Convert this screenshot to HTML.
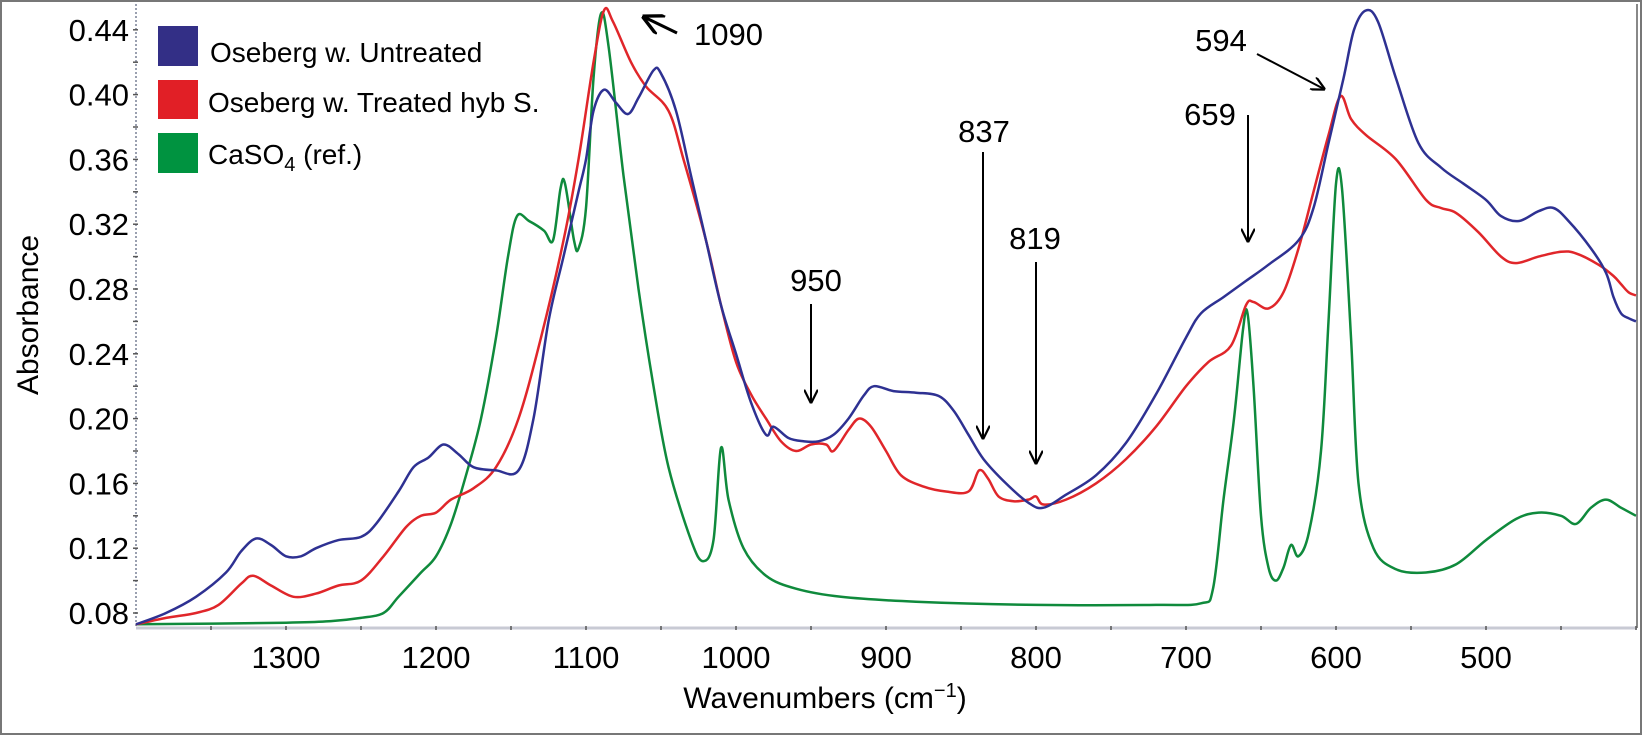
<!DOCTYPE html>
<html><head><meta charset="utf-8"><style>
html,body{margin:0;padding:0;background:#fff;}
svg{display:block;font-family:"Liberation Sans",Arial,sans-serif;}
</style></head><body>
<svg id="chart" width="1642" height="735" viewBox="0 0 1642 735">
<rect x="1" y="1" width="1640" height="733" fill="#fff" stroke="#777" stroke-width="2"/>
<g id="axes"></g>
<g id="series"></g>
<g id="legend">
  <rect x="158" y="26" width="40" height="40" fill="#332f86"/>
  <text x="210" y="62" font-size="28">Oseberg w. Untreated</text>
  <rect x="158" y="80" width="40" height="39" fill="#e11f26"/>
  <text x="208" y="112" font-size="28">Oseberg w. Treated hyb S.</text>
  <rect x="158" y="133" width="40" height="40" fill="#009340"/>
  <text x="208" y="164" font-size="28">CaSO<tspan font-size="20" dy="7">4</tspan><tspan dy="-7"> (ref.)</tspan></text>
</g>
<g id="annotations" font-size="31">
  <defs><marker id="ah" viewBox="0 0 10 10" refX="9" refY="5" markerWidth="7" markerHeight="7" orient="auto"><path d="M0,0 L10,5 L0,10" fill="none" stroke="#000" stroke-width="1.6"/></marker></defs>
  <line x1="677" y1="33" x2="644" y2="17" stroke="#000" stroke-width="3" marker-end="url(#ah)"/>
  <text x="694" y="45">1090</text>
  <line x1="811" y1="304" x2="811" y2="402" stroke="#000" stroke-width="2" marker-end="url(#ah)"/>
  <text x="816" y="291" text-anchor="middle">950</text>
  <line x1="983" y1="152" x2="983" y2="438" stroke="#000" stroke-width="2" marker-end="url(#ah)"/>
  <text x="984" y="142" text-anchor="middle">837</text>
  <line x1="1036" y1="262" x2="1036" y2="463" stroke="#000" stroke-width="2" marker-end="url(#ah)"/>
  <text x="1035" y="249" text-anchor="middle">819</text>
  <line x1="1248" y1="115" x2="1248" y2="241" stroke="#000" stroke-width="2" marker-end="url(#ah)"/>
  <text x="1210" y="125" text-anchor="middle">659</text>
  <line x1="1257" y1="54" x2="1324" y2="89" stroke="#000" stroke-width="2" marker-end="url(#ah)"/>
  <text x="1221" y="51" text-anchor="middle">594</text>
</g>
<text x="825" y="708" font-size="30" text-anchor="middle">Wavenumbers (cm<tspan font-size="20" dy="-11">−1</tspan><tspan dy="11">)</tspan></text>
<text x="0" y="0" font-size="30" text-anchor="middle" transform="translate(38,315) rotate(-90)">Absorbance</text>
</svg>
<script>
const xTicks = [1300,1200,1100,1000,900,800,700,600,500];
const yTicks = [0.08,0.12,0.16,0.20,0.24,0.28,0.32,0.36,0.40,0.44];
const untreatedW = [1400,1380,1360,1340,1330,1320,1310,1300,1290,1280,1265,1250,1240,1225,1215,1205,1195,1185,1175,1160,1145,1135,1125,1115,1105,1100,1095,1088,1080,1072,1065,1055,1050,1040,1030,1020,1010,1000,990,980,975,965,955,945,935,925,915,908,895,880,865,855,845,835,820,805,795,780,760,740,720,700,690,675,660,645,625,615,605,595,588,580,572,560,545,530,515,500,490,478,465,455,445,430,420,415,410,405,400];
const untreatedA = [0.073,0.08,0.09,0.105,0.118,0.126,0.122,0.115,0.115,0.12,0.125,0.127,0.135,0.155,0.17,0.176,0.184,0.178,0.17,0.168,0.168,0.2,0.26,0.3,0.34,0.36,0.39,0.403,0.395,0.388,0.398,0.415,0.413,0.39,0.35,0.31,0.27,0.24,0.21,0.19,0.195,0.188,0.186,0.186,0.19,0.2,0.214,0.22,0.217,0.216,0.214,0.205,0.19,0.175,0.16,0.148,0.145,0.153,0.165,0.185,0.215,0.25,0.265,0.275,0.285,0.295,0.31,0.33,0.37,0.41,0.44,0.452,0.445,0.41,0.37,0.355,0.345,0.335,0.325,0.322,0.328,0.33,0.322,0.305,0.29,0.275,0.265,0.262,0.26];
const treatedW = [1400,1380,1360,1345,1330,1322,1310,1295,1280,1265,1250,1235,1220,1210,1200,1190,1175,1160,1145,1130,1115,1105,1095,1088,1082,1070,1060,1045,1035,1020,1010,1000,990,980,970,960,950,940,935,925,918,910,900,890,875,860,845,838,832,825,815,805,800,795,780,760,740,720,700,685,670,660,655,645,635,625,615,605,597,590,580,560,540,530,520,505,490,480,465,450,440,425,415,410,405,400];
const treatedA = [0.073,0.077,0.08,0.085,0.098,0.103,0.097,0.09,0.092,0.097,0.1,0.115,0.133,0.14,0.142,0.15,0.157,0.17,0.2,0.25,0.31,0.36,0.42,0.452,0.445,0.42,0.405,0.39,0.36,0.31,0.27,0.235,0.215,0.2,0.186,0.18,0.184,0.184,0.18,0.193,0.2,0.195,0.18,0.165,0.158,0.155,0.155,0.168,0.163,0.152,0.149,0.15,0.152,0.147,0.15,0.16,0.175,0.195,0.22,0.235,0.245,0.27,0.272,0.268,0.278,0.305,0.34,0.375,0.399,0.385,0.375,0.36,0.335,0.33,0.327,0.315,0.3,0.296,0.3,0.303,0.302,0.295,0.288,0.283,0.278,0.276];
const caso4W = [1400,1300,1270,1250,1235,1225,1210,1200,1190,1180,1170,1160,1152,1146,1138,1128,1122,1117,1114,1108,1105,1100,1095,1090,1085,1075,1065,1055,1045,1030,1022,1015,1010,1005,995,980,960,930,880,800,720,690,682,675,668,662,659,655,650,645,640,635,630,625,618,610,605,600,596,590,585,575,560,540,520,500,480,465,450,440,430,420,410,400];
const caso4A = [0.073,0.074,0.075,0.077,0.08,0.09,0.105,0.115,0.135,0.165,0.2,0.25,0.3,0.325,0.322,0.316,0.31,0.342,0.345,0.31,0.305,0.33,0.41,0.45,0.43,0.35,0.28,0.22,0.17,0.125,0.112,0.125,0.182,0.15,0.12,0.103,0.095,0.09,0.087,0.085,0.085,0.086,0.095,0.15,0.2,0.255,0.265,0.22,0.14,0.108,0.1,0.108,0.122,0.115,0.13,0.18,0.26,0.345,0.342,0.25,0.16,0.12,0.107,0.105,0.11,0.125,0.138,0.142,0.14,0.135,0.145,0.15,0.145,0.14];

const NS='http://www.w3.org/2000/svg';
const X0=136, X1=1637, Y0=628, YT=4;
function xs(w){return 286+(1300-w)*1.5;}
function ys(a){return 613-(a-0.08)/0.04*64.8;}
function mk(tag,attrs,parent){const e=document.createElementNS(NS,tag);for(const k in attrs)e.setAttribute(k,attrs[k]);parent.appendChild(e);return e;}
const axes=document.getElementById('axes');
let e=mk('line',{x1:X0,y1:YT,x2:X0,y2:Y0,stroke:'#9aa0b0','stroke-width':2,'stroke-dasharray':'2 2'},axes);


e=mk('line',{x1:X0,y1:Y0,x2:X1,y2:Y0,stroke:'#c8cad4','stroke-width':3},axes);


e=mk('line',{x1:X1,y1:YT,x2:X1,y2:Y0,stroke:'#888','stroke-width':2},axes);


for(let w=1350;w>=400;w-=50){mk('line',{x1:xs(w),y1:Y0-2,x2:xs(w),y2:Y0+2,stroke:'#555','stroke-width':1.5},axes);}
for(const t of xTicks){
  const tx=mk('text',{x:xs(t),y:668,'font-size':31,'text-anchor':'middle'},axes);tx.textContent=t;
  
  
}
for(let v=0.08;v<=0.445;v+=0.02){mk('line',{x1:X0-3,y1:ys(v),x2:X0+2,y2:ys(v),stroke:'#555','stroke-width':1.5},axes);}
for(const t of yTicks){
  const ty=mk('text',{x:X0-7,y:ys(t)+11,'font-size':31,'text-anchor':'end'},axes);ty.textContent=t.toFixed(2);
  
  
}
const ser=document.getElementById('series');
function smoothPath(P){
  let d='M'+P[0][0].toFixed(1)+','+P[0][1].toFixed(1);
  for(let i=0;i<P.length-1;i++){
    const p0=P[i-1]||P[i],p1=P[i],p2=P[i+1],p3=P[i+2]||P[i+1];
    const c1=[p1[0]+(p2[0]-p0[0])/6,p1[1]+(p2[1]-p0[1])/6];
    const c2=[p2[0]-(p3[0]-p1[0])/6,p2[1]-(p3[1]-p1[1])/6];
    d+=' C'+c1[0].toFixed(1)+','+c1[1].toFixed(1)+' '+c2[0].toFixed(1)+','+c2[1].toFixed(1)+' '+p2[0].toFixed(1)+','+p2[1].toFixed(1);
  }
  return d;
}
function draw(W,A,color,name){
  const P=W.map((w,i)=>[xs(w),ys(A[i])]);
  const p=mk('path',{d:smoothPath(P),fill:'none',stroke:color,'stroke-width':2.5,'stroke-linejoin':'round'},ser);
  
  
}
draw(caso4W,caso4A,'#0f8a3c','series-caso4-ref');
draw(treatedW,treatedA,'#e0262a','series-treated');
draw(untreatedW,untreatedA,'#2e3192','series-untreated');
</script>
</body></html>
